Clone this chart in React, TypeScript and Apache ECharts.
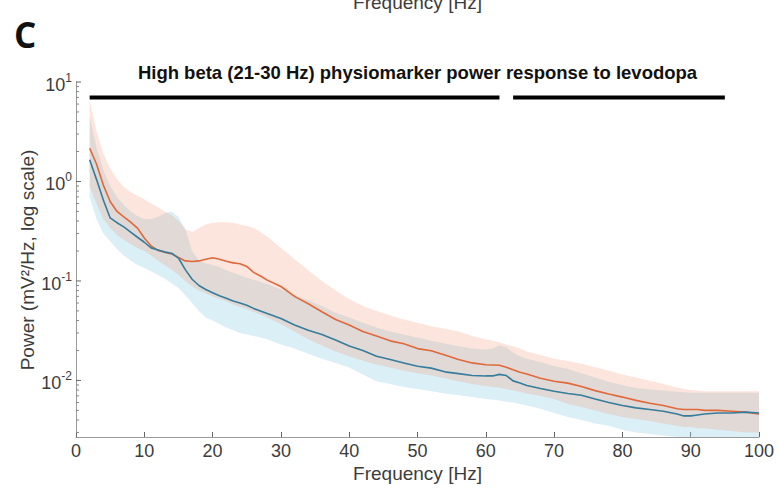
import React, { useEffect, useRef } from "react";
import * as echarts from "echarts";

// ---------- data ----------
const freqs = [2,3,4,5,6,7,8,9,10,11,12,13,14,15,16,17,18,19,20,21,22,23,24,25,26,27,28,30,32,34,36,38,40,42,44,46,48,50,52,54,56,58,60,61,62,63,64,65,66,68,70,72,74,76,78,80,82,84,86,88,89,90,91,92,94,96,98,100];

const orangeMean = [2.16,1.5,0.92,0.63,0.5,0.44,0.39,0.34,0.27,0.225,0.203,0.195,0.187,0.172,0.159,0.157,0.159,0.165,0.171,0.165,0.158,0.152,0.149,0.14,0.122,0.112,0.102,0.088,0.07,0.059,0.049,0.041,0.036,0.031,0.028,0.025,0.0234,0.0209,0.0199,0.018,0.0162,0.015,0.0144,0.0143,0.0142,0.0136,0.0128,0.0121,0.0116,0.0105,0.0098,0.0094,0.0087,0.0079,0.0073,0.0068,0.0063,0.0059,0.0056,0.0052,0.0051,0.0051,0.0051,0.005,0.005,0.0049,0.0048,0.0046];
const orangeUpper = [6.5,3.2,1.9,1.35,1.05,0.88,0.78,0.72,0.66,0.6,0.55,0.5,0.46,0.4,0.33,0.31,0.34,0.37,0.385,0.39,0.39,0.385,0.37,0.356,0.34,0.31,0.28,0.215,0.165,0.128,0.1,0.08,0.066,0.056,0.05,0.045,0.041,0.038,0.035,0.033,0.031,0.028,0.026,0.025,0.024,0.023,0.022,0.021,0.0195,0.018,0.0165,0.0157,0.0147,0.0136,0.0125,0.0115,0.0107,0.0099,0.0092,0.0085,0.0082,0.008,0.0079,0.0078,0.0078,0.0078,0.0078,0.0078];
const orangeLower = [0.9,0.6,0.42,0.34,0.29,0.26,0.235,0.215,0.2,0.18,0.16,0.145,0.13,0.115,0.1,0.088,0.08,0.075,0.07,0.066,0.062,0.058,0.055,0.052,0.049,0.046,0.043,0.037,0.031,0.026,0.0225,0.0195,0.0175,0.0158,0.0145,0.0135,0.0125,0.0118,0.0112,0.0105,0.0098,0.0092,0.0088,0.0086,0.0085,0.0082,0.0079,0.0077,0.0074,0.007,0.0065,0.0058,0.0054,0.005,0.0046,0.0043,0.0041,0.0039,0.0037,0.0035,0.0034,0.0034,0.0033,0.0033,0.0032,0.0031,0.003,0.003];

const blueMean = [1.65,1.05,0.65,0.43,0.385,0.35,0.31,0.275,0.245,0.215,0.205,0.195,0.19,0.17,0.13,0.104,0.09,0.082,0.076,0.071,0.067,0.063,0.06,0.057,0.053,0.05,0.047,0.042,0.036,0.032,0.029,0.0255,0.0222,0.02,0.0175,0.0162,0.015,0.0139,0.0133,0.0122,0.0117,0.0112,0.0111,0.0111,0.0115,0.0112,0.0099,0.0094,0.0089,0.0083,0.0078,0.0074,0.0071,0.0065,0.006,0.0056,0.0053,0.0051,0.0049,0.0046,0.0044,0.0044,0.0045,0.0046,0.0047,0.0047,0.0048,0.0047];
const blueUpper = [4.5,2.2,1.3,0.9,0.7,0.58,0.5,0.45,0.42,0.42,0.44,0.48,0.5,0.44,0.33,0.2,0.16,0.15,0.145,0.138,0.128,0.121,0.114,0.108,0.103,0.098,0.093,0.082,0.072,0.064,0.056,0.048,0.043,0.038,0.034,0.031,0.029,0.027,0.025,0.0235,0.022,0.021,0.0205,0.021,0.0225,0.0215,0.019,0.0175,0.0165,0.0153,0.014,0.013,0.0118,0.0107,0.0097,0.009,0.0084,0.0081,0.0079,0.0077,0.0076,0.0075,0.0075,0.0075,0.0075,0.0075,0.0075,0.0075];
const blueLower = [0.7,0.42,0.3,0.25,0.21,0.18,0.16,0.145,0.135,0.125,0.115,0.105,0.095,0.085,0.072,0.06,0.05,0.043,0.04,0.037,0.034,0.032,0.03,0.029,0.028,0.027,0.026,0.023,0.021,0.0185,0.0165,0.015,0.0135,0.0115,0.0098,0.0092,0.0086,0.0082,0.0078,0.0074,0.0071,0.0068,0.0065,0.0064,0.0063,0.0061,0.006,0.0058,0.0056,0.0052,0.0047,0.0043,0.004,0.0037,0.0035,0.0032,0.003,0.0029,0.0028,0.0027,0.0027,0.0027,0.0027,0.0027,0.0027,0.0027,0.0027,0.0027];

// significance bars (Hz)
const sigStart = [2, 64];
const sigEnd = [62, 95];
const sigLevel = 7.0;

const yMajorTicks = [0.01, 0.1, 1, 10];
const yMajorExp = ["-2", "-1", "0", "1"];
const yMinorTicks = [0.003,0.004,0.005,0.006,0.007,0.008,0.009,0.02,0.03,0.04,0.05,0.06,0.07,0.08,0.09,0.2,0.3,0.4,0.5,0.6,0.7,0.8,0.9,2,3,4,5,6,7,8,9];

const Y_MIN = 0.0027;
const Y_MAX = 10;

const TITLE = "High beta (21-30 Hz) physiomarker power response to levodopa";
const FONT = "'Liberation Sans', Arial, sans-serif";
const AXIS_COLOR = "#9a9a9a";
const TEXT_COLOR = "#3c3c3c";

function bandSeries(upper: number[], lower: number[], fill: string, z: number) {
  return {
    type: "custom",
    silent: true,
    clip: true,
    z,
    data: freqs.map((f, i) => [f, upper[i]]),
    renderItem: (params: any, api: any) => {
      if (params.dataIndex !== 0) return null;
      const pts: number[][] = [];
      for (let i = 0; i < freqs.length; i++) pts.push(api.coord([freqs[i], upper[i]]));
      for (let i = freqs.length - 1; i >= 0; i--) pts.push(api.coord([freqs[i], lower[i]]));
      return { type: "polygon", shape: { points: pts }, style: { fill } };
    },
  };
}

function txt(x: number, y: number, text: string, font: string, fill: string, align: string, vAlign: string, extra: any = {}) {
  return {
    type: "text",
    x,
    y,
    ...extra,
    style: { text, font, fill, align, verticalAlign: vAlign, textAlign: align, textVerticalAlign: vAlign },
  };
}

export default function App() {
  const ref = useRef<HTMLDivElement>(null);
  useEffect(() => {
    if (!ref.current) return;
    const chart = echarts.init(ref.current, undefined, { renderer: "svg" });
    const option: any = {
      animation: false,
      backgroundColor: "#ffffff",
      textStyle: { fontFamily: FONT },
      grid: { left: 76, right: 20, top: 82, bottom: 56, containLabel: false },
      xAxis: {
        type: "value",
        min: 0,
        max: 100,
        interval: 10,
        axisLine: { show: true, lineStyle: { color: AXIS_COLOR, width: 1 } },
        axisTick: { show: true, inside: true, length: 5, lineStyle: { color: "#666" } },
        axisLabel: { show: true, color: TEXT_COLOR, fontSize: 18, margin: 5, fontFamily: FONT },
        splitLine: { show: false },
      },
      yAxis: {
        type: "log",
        logBase: 10,
        min: Y_MIN,
        max: Y_MAX,
        axisLine: { show: true, lineStyle: { color: AXIS_COLOR, width: 1 } },
        axisTick: { show: false },
        axisLabel: { show: false },
        splitLine: { show: false },
        minorTick: { show: false },
      },
      graphic: [
        txt(14, 34, "C", "bold 35px 'Open Sans', sans-serif", "#111", "left", "middle"),
        txt(417.5, 12, "Frequency [Hz]", `19px ${FONT}`, TEXT_COLOR, "center", "bottom"),
        txt(417.5, 72, TITLE, `bold 18.5px ${FONT}`, "#111", "center", "middle"),
        txt(417.5, 473, "Frequency [Hz]", `19px ${FONT}`, TEXT_COLOR, "center", "middle"),
        txt(27, 260, "Power (mV²/Hz, log scale)", `19px ${FONT}`, TEXT_COLOR, "center", "middle", { rotation: Math.PI / 2 }),
      ],
      series: [
        bandSeries(blueUpper, blueLower, "rgba(150,210,230,0.35)", 1),
        bandSeries(orangeUpper, orangeLower, "rgba(245,150,120,0.25)", 2),
        {
          type: "line",
          data: freqs.map((f, i) => [f, orangeMean[i]]),
          showSymbol: false,
          symbol: "none",
          lineStyle: { color: "#e0683a", width: 1.6 },
          z: 3,
          silent: true,
        },
        {
          type: "line",
          data: freqs.map((f, i) => [f, blueMean[i]]),
          showSymbol: false,
          symbol: "none",
          lineStyle: { color: "#367c9c", width: 1.6 },
          z: 4,
          silent: true,
        },
        ...sigStart.map((s, i) => ({
          type: "line",
          data: [[s, sigLevel], [sigEnd[i], sigLevel]],
          showSymbol: false,
          symbol: "none",
          lineStyle: { color: "#000", width: 4 },
          z: 5,
          silent: true,
        })),
        {
          type: "custom",
          silent: true,
          z: 6,
          data: yMinorTicks.map((v) => [0, v]),
          renderItem: (params: any, api: any) => {
            const p = api.coord([0, yMinorTicks[params.dataIndex]]);
            return {
              type: "line",
              shape: { x1: p[0], y1: p[1], x2: p[0] + 3, y2: p[1] },
              style: { stroke: "#888", lineWidth: 1 },
            };
          },
        },
        {
          type: "custom",
          silent: true,
          z: 6,
          data: yMajorTicks.map((v) => [0, v]),
          renderItem: (params: any, api: any) => {
            const i = params.dataIndex;
            const p = api.coord([0, yMajorTicks[i]]);
            return {
              type: "group",
              children: [
                {
                  type: "line",
                  shape: { x1: p[0], y1: p[1], x2: p[0] + 5, y2: p[1] },
                  style: { stroke: "#666", lineWidth: 1 },
                },
                {
                  type: "text",
                  x: p[0] - 4,
                  y: p[1] + 1,
                  style: {
                    text: `{a|10}{b|${yMajorExp[i]}}`,
                    rich: {
                      a: { fontSize: 18, fontFamily: FONT, fill: TEXT_COLOR, color: TEXT_COLOR, verticalAlign: "bottom", lineHeight: 22 },
                      b: { fontSize: 12, fontFamily: FONT, fill: TEXT_COLOR, color: TEXT_COLOR, verticalAlign: "top", lineHeight: 22 },
                    },
                    align: "right",
                    verticalAlign: "middle",
                  },
                },
              ],
            };
          },
        },
      ],
    };
    chart.setOption(option);
    return () => chart.dispose();
  }, []);
  return <div ref={ref} style={{ width: 779, height: 493, position: "absolute", left: 0, top: 0 }} />;
}
